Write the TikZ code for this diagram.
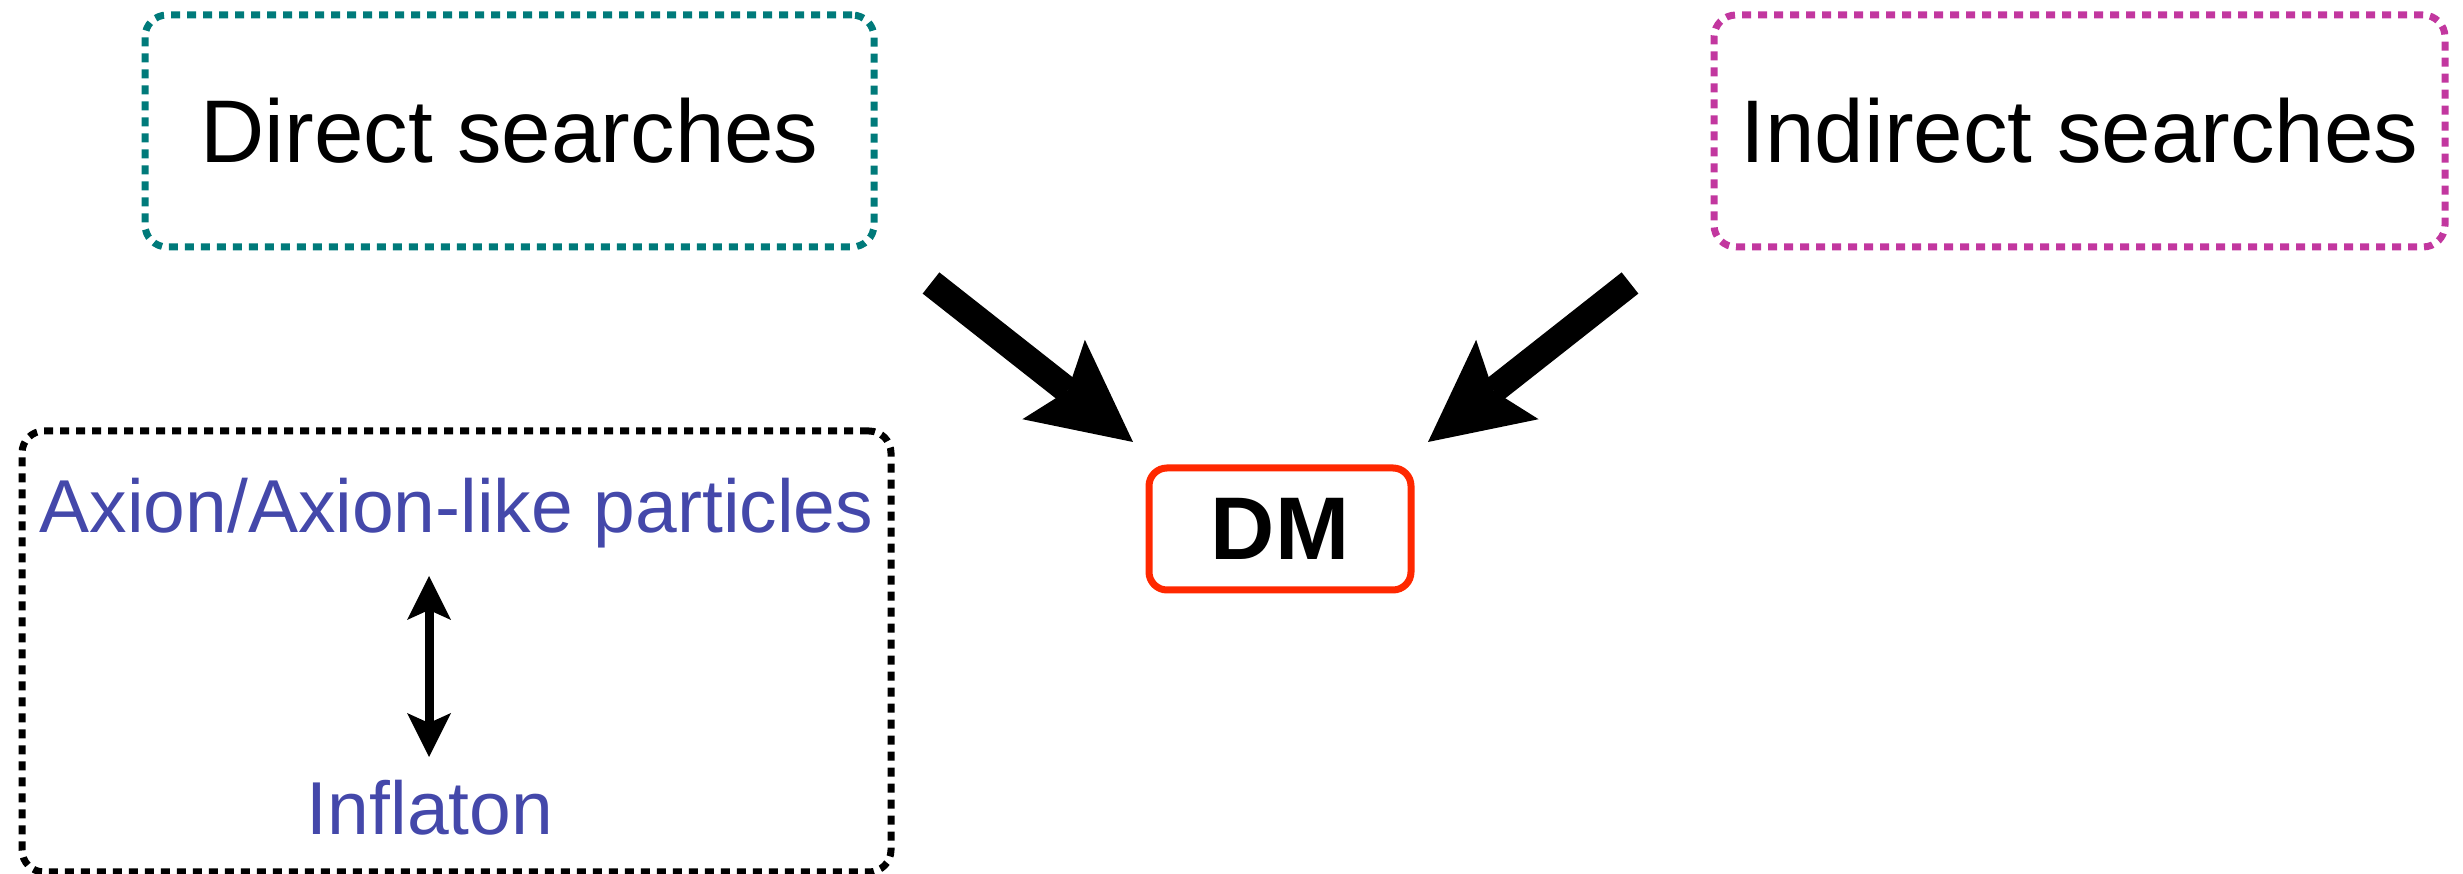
\documentclass[tikz,border=0pt]{standalone}
\usepackage{fontspec}
\setmainfont{Liberation Sans}
\usetikzlibrary{arrows.meta}
\definecolor{tealA}{RGB}{0,122,122}
\definecolor{magA}{RGB}{194,55,159}
\definecolor{blueA}{RGB}{68,72,170}
\definecolor{redA}{RGB}{255,40,0}
\begin{document}
\begin{tikzpicture}[x=0.25pt,y=-0.25pt,
  dotbox/.style={draw, line width=1.75pt, dash pattern=on 2.25pt off 1.75pt, rounded corners=5.5pt, inner sep=0pt},
  bigtext/.style={font=\fontsize{22.25}{26}\selectfont},
  bluetext/.style={text=blueA, font=\fontsize{18.75}{22}\selectfont, inner sep=0pt},
  dmbox/.style={draw=redA, line width=1.75pt, rounded corners=4.5pt, inner sep=0pt, font=\bfseries\fontsize{22.25}{26}\selectfont},
  bigarrow/.style={line width=6.75pt, -{Stealth[length=25.25pt, width=25.25pt, inset=4.5pt, line width=0pt]}},
  dblarrow/.style={line width=2.25pt, {Stealth[length=11pt, width=11pt, inset=2.5pt, line width=0pt]}-{Stealth[length=11pt, width=11pt, inset=2.5pt, line width=0pt]}}
]
\useasboundingbox (0,0) rectangle (2463,874);
% top boxes
\node[dotbox, draw=tealA, bigtext, minimum width=182.25pt, minimum height=58pt] (ds) at (509.5,131) {Direct searches};
\node[dotbox, draw=magA, bigtext, minimum width=182.75pt, minimum height=58pt] (is) at (2079.5,131) {Indirect searches};
% left group
\node[dotbox, draw=black, minimum width=217.25pt, minimum height=110.25pt] (grp) at (456.5,651.5) {};
\node[bluetext, anchor=base] (alp) at (456.5,533) {Axion/Axion-like particles};
\node[bluetext, anchor=base] (inf) at (430,835) {Inflaton};
\coordinate (d1) at (429,576);
\coordinate (d2) at (429,757);
\draw[dblarrow] (d1) -- (d2);
% DM
\node[dmbox, minimum width=65.5pt, minimum height=30.5pt] (dm) at (1280,529) {DM};
% big arrows
\coordinate (a1s) at (931,283);
\coordinate (a1e) at (1133,442);
\coordinate (a2s) at (1630,283);
\coordinate (a2e) at (1428,442);
\draw[bigarrow] (a1s) -- (a1e);
\draw[bigarrow] (a2s) -- (a2e);
\end{tikzpicture}
\end{document}
